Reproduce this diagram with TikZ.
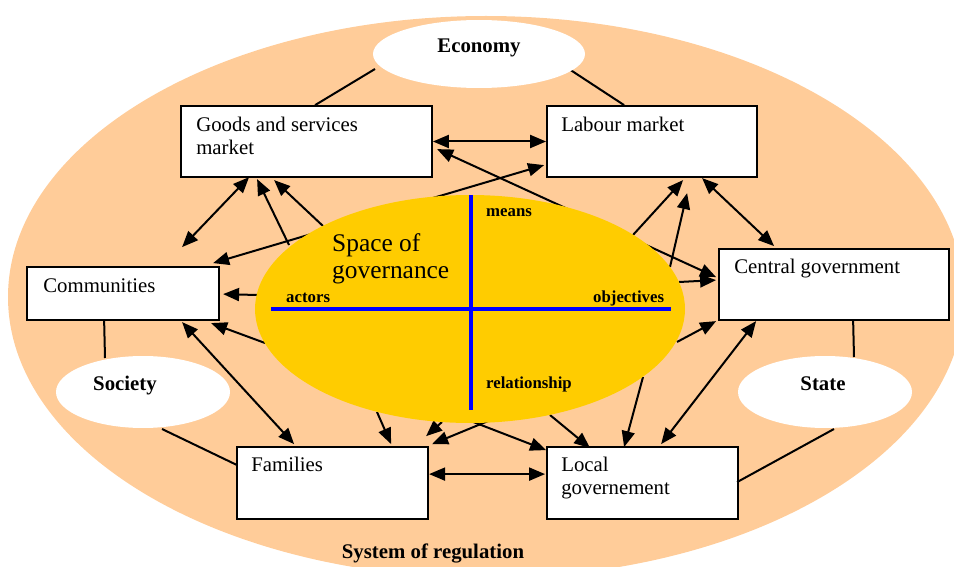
\documentclass[tikz,border=0pt]{standalone}
\usepackage{fontspec}
\setmainfont{Liberation Serif}
\usetikzlibrary{arrows.meta,shapes.geometric,calc}
\pgfdeclarelayer{bg}
\pgfdeclarelayer{fg}
\pgfsetlayers{bg,main,fg}
\definecolor{peach}{HTML}{FFCC99}
\definecolor{gold}{HTML}{FFCC00}
\definecolor{axisblue}{HTML}{0000FF}

\begin{document}
\begin{tikzpicture}[x=1pt,y=-1pt,
  box/.style={draw=black, line width=1.8pt, fill=white, rectangle, inner sep=0pt},
  boxtext/.style={anchor=base west, inner sep=0pt, align=left, font=\fontsize{20.8}{23}\selectfont},
  cloud/.style={ellipse, fill=white, inner sep=0pt},
  head/.style={font=\bfseries\fontsize{20.8}{23}\selectfont, anchor=base, inner sep=0pt},
  axislabel/.style={font=\bfseries\fontsize{16.8}{19}\selectfont, anchor=base west, inner sep=0pt},
  link/.style={line width=2pt},
  arr/.style={line width=2pt, -{Triangle[length=16pt,width=13pt]}},
  darr/.style={line width=2pt, {Triangle[length=16pt,width=13pt]}-{Triangle[length=16pt,width=13pt]}},
]
\useasboundingbox (0,0) rectangle (954,567);

% outer system of regulation
\begin{pgfonlayer}{bg}
  \begin{scope}
    \clip (0,0) rectangle (954,567);
    \fill[peach] (486,297) ellipse [x radius=478pt, y radius=281pt];
  \end{scope}
\end{pgfonlayer}
\node[head] (sysreg) at (433,558) {System of regulation};

% actors (multi-line labels are placed by the baseline of their last line)
\node[box, minimum width=251pt, minimum height=71pt] (goods) at (306.5,141.5) {};
\node[box, minimum width=210pt, minimum height=71pt] (labour) at (652,141.5) {};
\node[box, minimum width=192pt, minimum height=53pt] (comm) at (123,293.5) {};
\node[box, minimum width=230pt, minimum height=71pt] (cent) at (834,284.5) {};
\node[box, minimum width=191pt, minimum height=72pt] (fam) at (332.5,483) {};
\node[box, minimum width=191pt, minimum height=72pt] (loc) at (642.5,483) {};

\node[boxtext] (goodsT) at ($(goods.north west)+(16,49)$) {Goods and services\\market};
\node[boxtext] (labourT) at ($(labour.north west)+(15,26)$) {Labour market};
\node[boxtext] (commT) at ($(comm.north west)+(17,26)$) {Communities};
\node[boxtext] (centT) at ($(cent.north west)+(16,25)$) {Central government};
\node[boxtext] (famT) at ($(fam.north west)+(15,25)$) {Families};
\node[boxtext] (locT) at ($(loc.north west)+(15,48)$) {Local\\governement};

% central space of governance and the three spheres
\begin{pgfonlayer}{fg}
  \node[ellipse, fill=gold, inner sep=0pt, minimum width=430pt, minimum height=228pt] (yel) at (470,309) {};
  \coordinate (axN) at (471,195);
  \coordinate (axS) at (471,410);
  \coordinate (axW) at (271,309);
  \coordinate (axE) at (671,309);
  \draw[axisblue, line width=4pt] (axN) -- (axS);
  \draw[axisblue, line width=4pt] (axW) -- (axE);
  \node[anchor=base west, inner sep=0pt, align=left, font=\fontsize{25.4}{26.5}\selectfont] (space) at (332,278) {Space of\\governance};
  \node[axislabel] (means) at (486,216) {means};
  \node[axislabel] (actors) at (286,302) {actors};
  \node[axislabel] (objectives) at (593,302) {objectives};
  \node[axislabel] (relationship) at (486,388) {relationship};

  \node[cloud, minimum width=212pt, minimum height=68pt] (econ) at (479,54) {};
  \node[cloud, minimum width=174pt, minimum height=72pt] (soc) at (143,392) {};
  \node[cloud, minimum width=174pt, minimum height=72pt] (state) at (825,392) {};
  \node[head] (econT) at (479,53) {Economy};
  \node[head] (socT) at (125,390) {Society};
  \node[head] (stateT) at (823,390) {State};
\end{pgfonlayer}

% spheres attached to their actors
\draw[link] ($(econ.center)+(-104,15)$) -- ($(goods.north west)+(135,0)$);
\draw[link] ($(econ.center)+(90,15)$) -- ($(labour.north west)+(78,0)$);
\draw[link] ($(comm.north west)+(78,53)$) -- ($(soc.center)+(-38,-34)$);
\draw[link] ($(soc.center)+(19,37)$) -- ($(fam.north west)+(1,19)$);
\draw[link] ($(cent.north west)+(135,71)$) -- ($(state.center)+(29,-35)$);
\draw[link] ($(state.center)+(9,37)$) -- ($(loc.north west)+(191,36)$);

% exchanges between actors
\draw[darr] (goods.east) -- (labour.west);
\draw[darr] ($(fam.north west)+(193,28)$) -- ($(loc.north west)+(-1,28)$);
\draw[darr] ($(comm.north west)+(187,-3)$) -- ($(labour.north west)+(-2,60)$);
\draw[darr] ($(goods.north west)+(257,44)$) -- ($(cent.north west)+(-2,29)$);
\draw[darr] ($(goods.north west)+(69,72)$) -- ($(comm.north west)+(156,-19)$);
\draw[darr] ($(comm.north west)+(156,56)$) -- ($(fam.north west)+(58,-2)$);
\draw[darr] ($(labour.north west)+(156,73)$) -- ($(cent.north west)+(56,-2)$);
\draw[darr] ($(cent.north west)+(38,73)$) -- ($(loc.north west)+(115,-2)$);

% influences from the space of governance
\draw[arr] ($(yel.center)+(-181,-64)$) -- ($(goods.north west)+(77,74)$);
\draw[arr] ($(yel.center)+(-147,-83)$) -- ($(goods.north west)+(94,75)$);
\draw[arr] ($(yel.center)+(-213,-14)$) -- ($(comm.north west)+(197,28)$);
\draw[arr] ($(yel.center)+(-205,34)$) -- ($(comm.north west)+(185,57)$);
\draw[arr] ($(yel.center)+(163,-74)$) -- ($(labour.north west)+(137,75)$);
\draw[arr] ($(yel.center)+(200,-42)$) -- ($(labour.north west)+(141,88)$);
\draw[arr] ($(yel.center)+(209,-27)$) -- ($(cent.north west)+(-2,32)$);
\draw[arr] ($(yel.center)+(207,33)$) -- ($(cent.north west)+(-2,73)$);
\draw[arr] ($(yel.center)+(173,68)$) -- ($(loc.north west)+(78,1)$);
\draw[arr] ($(yel.center)+(80,106)$) -- ($(loc.north west)+(44,2)$);
\draw[arr] ($(yel.center)+(-20,104)$) -- ($(loc.north west)+(0,4)$);
\draw[arr] ($(yel.center)+(40,103)$) -- ($(fam.north west)+(196,-2)$);
\draw[arr] ($(yel.center)+(-93,103)$) -- ($(fam.north west)+(155,-2)$);
\draw[arr] ($(yel.center)+(-28,113)$) -- ($(fam.north west)+(190,-10)$);
\end{tikzpicture}
\end{document}
